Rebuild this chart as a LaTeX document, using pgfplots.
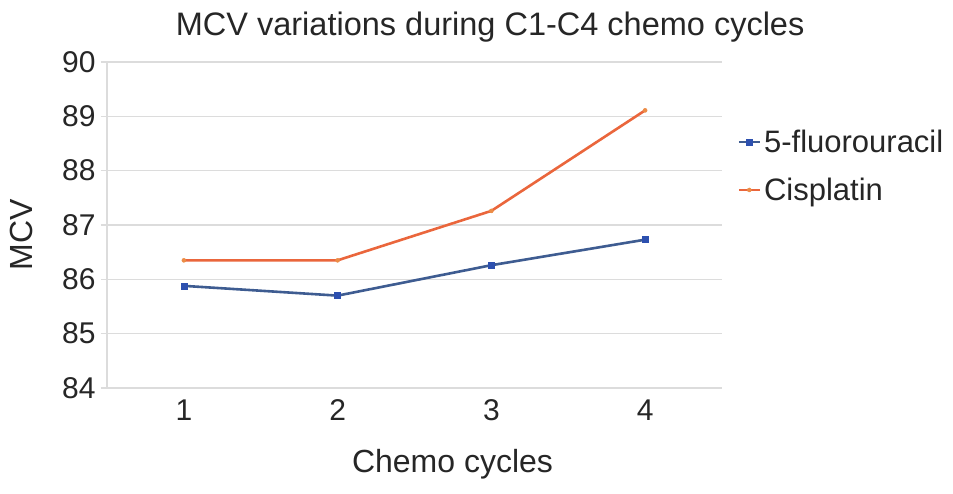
\documentclass[border=0pt]{standalone}
\usepackage{pgfplots}
\pgfplotsset{compat=1.18}
\usepackage{fontspec}
\setmainfont{Liberation Sans}

\definecolor{fluline}{RGB}{62,92,145}
\definecolor{flumark}{RGB}{45,80,175}
\definecolor{cisline}{RGB}{234,102,60}
\definecolor{cismark}{RGB}{236,140,70}
\definecolor{gridgray}{RGB}{220,220,220}

\begin{document}
\begin{tikzpicture}
  \begin{axis}[
    at={(0pt,0pt)}, anchor=south west,
    scale only axis,
    width=615pt, height=326pt,
    xmin=0.5, xmax=4.5,
    ymin=84, ymax=90,
    xtick={1,2,3,4},
    ytick={84,85,86,87,88,89,90},
    ymajorgrids=true,
    grid style={gridgray, line width=1.2pt},
    axis line style={gridgray, line width=1.2pt},
    axis x line*=bottom,
    axis y line*=left,
    x tick style={draw=none},
    y tick style={gridgray, line width=1.2pt},
    major tick length=6pt,
    tick align=outside,
    /pgf/number format/assume math mode=true,
    tick label style={font=\fontsize{30}{34}\selectfont, text=black!85},
    xticklabel style={yshift=-2pt},
    yticklabel style={xshift=-2pt},
    xlabel={Chemo cycles},
    ylabel={MCV},
    label style={font=\fontsize{32}{36}\selectfont, text=black!85},
    xlabel style={xshift=38pt, yshift=-22pt},
    ylabel style={yshift=22pt, xshift=-10pt},
    title={MCV variations during C1-C4 chemo cycles},
    title style={font=\fontsize{32.5}{37}\selectfont, text=black!85,
      at={(axis description cs:0.623,1)}, yshift=10pt},
    legend style={
      at={(1.02,0.681)}, anchor=west,
      draw=none, fill=none,
      font=\fontsize{31}{35}\selectfont,
      text=black!85,
      row sep=18pt,
      nodes={inner sep=3pt},
    },
    legend cell align=left,
    legend image code/.code={
      \draw[#1, mark=none] (0pt,0pt) -- (21pt,0pt);
      \draw[#1, only marks] plot coordinates {(10.5pt,0pt)};
    },
  ]

  \addplot[
    color=fluline,
    line width=2.6pt,
    mark=square*,
    mark size=3pt,
    mark options={fill=flumark, draw=flumark, line width=0.5pt},
  ]
  coordinates {
    (1,85.88)(2,85.70)(3,86.26)(4,86.73)
  };
  \addlegendentry{5-fluorouracil}

  \addplot[
    color=cisline,
    line width=2.6pt,
    mark=*,
    mark size=2pt,
    mark options={fill=cismark, draw=cismark, line width=0.5pt},
  ]
  coordinates {
    (1,86.35)(2,86.35)(3,87.26)(4,89.11)
  };
  \addlegendentry{Cisplatin}

  \end{axis}
  \path[use as bounding box] (-107pt,-106pt) rectangle (846pt,388pt);
\end{tikzpicture}
\end{document}
